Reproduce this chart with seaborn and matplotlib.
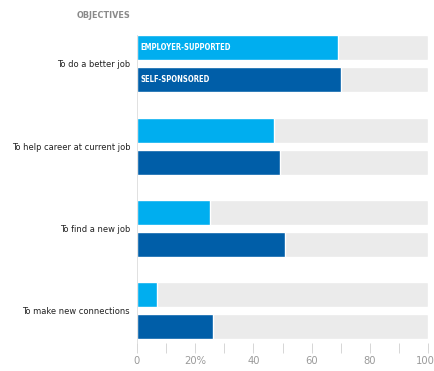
import matplotlib
matplotlib.use("Agg")
import matplotlib.pyplot as plt
import matplotlib.transforms as mtransforms
import seaborn as sns
import pandas as pd
from matplotlib import font_manager

categories = ["To do a better job", "To help career at current job",
              "To find a new job", "To make new connections"]
series_names = ["EMPLOYER-SUPPORTED", "SELF-SPONSORED"]
employer = [69, 47, 25, 7]
self_sp = [70, 49, 51, 26]
xticks = [0, 20, 40, 60, 80, 100]
xtick_labels = ["0", "20%", "40", "60", "80", "100"]

# look for a condensed face
cond = [f for f in font_manager.fontManager.ttflist
        if ("condensed" in f.fname.lower() or "narrow" in f.fname.lower())
        and f.style == "normal"]
reg = [f for f in cond if f.weight in (400, "normal", "regular")]
bold = [f for f in cond if f.weight in (700, "bold")]
have_cond = bool(reg)
if have_cond:
    reg_fp = font_manager.FontProperties(fname=reg[0].fname)
    bold_fp = font_manager.FontProperties(fname=bold[0].fname) if bold else \
        font_manager.FontProperties(fname=reg[0].fname, weight="bold")
    k = 1.0
else:
    reg_fp = font_manager.FontProperties(family="DejaVu Sans")
    bold_fp = font_manager.FontProperties(family="DejaVu Sans", weight="bold")
    k = 0.82

sns.set_style("white")
plt.rcParams["font.family"] = ["DejaVu Sans"]

df = pd.DataFrame({
    "cat": categories * 2,
    "series": [series_names[0]] * 4 + [series_names[1]] * 4,
    "value": employer + self_sp,
})
df["full"] = 100

fig = plt.figure(figsize=(4.34, 3.71), dpi=100)
ax = fig.add_axes([137/434, 1 - 343/371, 291/434, (343 - 35)/371])

W, GAP = 0.78, 0.22
sns.barplot(data=df, y="cat", x="full", hue="series", orient="h",
            palette=["#ebebeb", "#ebebeb"], width=W, gap=GAP, legend=False,
            ax=ax, errorbar=None, saturation=1)
sns.barplot(data=df, y="cat", x="value", hue="series", orient="h",
            palette=["#00aeef", "#005ea8"], width=W, gap=GAP, legend=False,
            ax=ax, errorbar=None, saturation=1)

ax.set_xlim(0, 100)
ax.set_ylim(3.39, -0.35)
ax.set_xlabel("")
ax.set_ylabel("")
ax.set_xticks(range(0, 101, 10))
ax.set_xticklabels([xtick_labels[xticks.index(v)] if v in xticks else ""
                    for v in range(0, 101, 10)])
ax.tick_params(axis="x", length=7, width=0.6, color="#d0d0d0", pad=2.5,
               labelcolor="#9a9a9a", bottom=True)
ax.tick_params(axis="y", length=0, pad=5, labelcolor="#222222")
for lab in ax.get_xticklabels():
    lab.set_fontproperties(reg_fp)
    lab.set_fontsize(8.0 * k)
last = ax.get_xticklabels()[-1]
last.set_transform(last.get_transform() +
                   mtransforms.ScaledTranslation(-3/100, 0, fig.dpi_scale_trans))
for lab in ax.get_yticklabels():
    lab.set_fontproperties(reg_fp)
    lab.set_fontsize(6.7 * k)
for s in ["top", "right", "bottom"]:
    ax.spines[s].set_visible(False)
ax.spines["left"].set_color("#dcdcdc")
ax.spines["left"].set_linewidth(0.6)

off = W / 4
t1 = ax.text(1.2, 0 - off, series_names[0], color="white",
             va="center", ha="left", fontproperties=bold_fp)
t2 = ax.text(1.2, 0 + off, series_names[1], color="white",
             va="center", ha="left", fontproperties=bold_fp)
t1.set_fontsize(5.5 * k)
t2.set_fontsize(5.5 * k)

tt = fig.text(130/434, 1 - 16/371, "OBJECTIVES", ha="right", va="center",
              color="#8a8a8a", fontproperties=bold_fp)
tt.set_fontsize(6.5 * k)

fig.savefig("out.png", dpi=100)
